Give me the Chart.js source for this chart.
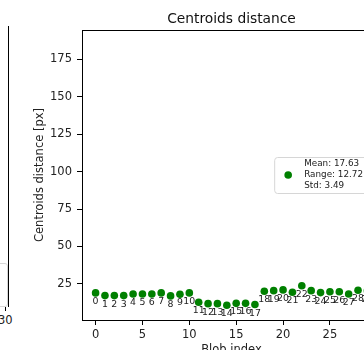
<!DOCTYPE html>
<html>
<head>
<meta charset="utf-8">
<script src="https://cdn.jsdelivr.net/npm/chart.js@4.4.1/dist/chart.umd.min.js"></script>
<style>
  html, body { margin: 0; padding: 0; background: #fff; }
  body { width: 364px; height: 350px; overflow: hidden; position: relative; font-family: "DejaVu Sans", sans-serif; }
  #wrap { position: absolute; left: 0; top: 0; width: 400px; height: 370px; }
  /* bits of the neighbouring subplot cut by the crop */
  .prev-spine { position: absolute; left: 8px; top: 26px; width: 1px; height: 281px; background: #000; }
  .prev-tick { position: absolute; left: 5px; top: 307px; width: 1px; height: 4px; background: #000; }
  .prev-label { position: absolute; left: -2px; top: 313px; font-size: 11.5px; color: #222; }
  .prev-legend { position: absolute; left: -40px; top: 263px; width: 46px; height: 42px; border: 1px solid #d6d6d6; border-radius: 3px; }
</style>
</head>
<body>
<div class="prev-spine"></div>
<div class="prev-tick"></div>
<div class="prev-label">30</div>
<div class="prev-legend"></div>
<div id="wrap"><canvas id="chart" width="400" height="370"></canvas></div>
<script>
// Datos del gráfico
const blobIdx = [0, 1, 2, 3, 4, 5, 6, 7, 8, 9, 10, 11, 12, 13, 14, 15, 16, 17, 18, 19, 20, 21, 22, 23, 24, 25, 26, 27, 28, 29];
const centroidDist = [19.0, 17.2, 17.2, 17.2, 18.3, 18.3, 18.3, 19.0, 17.0, 18.1,
                      19.0, 12.7, 11.8, 11.8, 10.7, 12.0, 12.0, 11.2, 20.1, 20.5,
                      21.0, 19.4, 23.8, 20.5, 19.2, 19.8, 19.8, 18.3, 20.8, 20.5];
const xTicks = [0, 5, 10, 15, 20, 25];
const yTicks = [25, 50, 75, 100, 125, 150, 175];
const legendLines = ["Mean: 17.63", "Range: 12.72", "Std: 3.49"];

const FONT = "DejaVu Sans";
const GREEN = "#008000";

// Marco superior/derecho y título centrado sobre el área del gráfico
const framePlugin = {
  id: "frame",
  afterDraw(chart) {
    const { ctx, chartArea: a } = chart;
    ctx.save();
    ctx.strokeStyle = "#000";
    ctx.lineWidth = 1;
    ctx.beginPath();
    ctx.moveTo(a.left, a.top + 0.5);
    ctx.lineTo(a.right, a.top + 0.5);
    ctx.lineTo(a.right, a.bottom);
    ctx.stroke();
    ctx.fillStyle = "#111";
    ctx.font = `13.8px "${FONT}"`;
    ctx.textAlign = "center";
    ctx.textBaseline = "middle";
    ctx.fillText("Centroids distance", (a.left + a.right) / 2, 19);
    ctx.restore();
  },
};

// Etiqueta con el índice debajo de cada punto
const indexLabels = {
  id: "indexLabels",
  afterDatasetsDraw(chart) {
    const { ctx } = chart;
    const pts = chart.getDatasetMeta(0).data;
    ctx.save();
    ctx.fillStyle = "#222";
    ctx.font = `9.4px "${FONT}"`;
    ctx.textAlign = "center";
    ctx.textBaseline = "middle";
    pts.forEach((p, i) => ctx.fillText(String(blobIdx[i]), p.x, p.y + 8.5));
    ctx.restore();
  },
};

// Leyenda tipo matplotlib ("center right")
const statsLegend = {
  id: "statsLegend",
  afterDraw(chart) {
    const { ctx, chartArea: a } = chart;
    ctx.save();
    ctx.font = `8.8px "${FONT}"`;
    const lineH = 11;
    const textW = Math.max(...legendLines.map((t) => ctx.measureText(t).width));
    const w = 30 + textW + 8;
    const h = legendLines.length * lineH + 3;
    const x = a.right - 10 - w;
    const cy = (a.top + a.bottom) / 2;
    const y = cy - h / 2;
    ctx.fillStyle = "rgba(255,255,255,0.8)";
    ctx.strokeStyle = "#d6d6d6";
    ctx.lineWidth = 1;
    ctx.beginPath();
    ctx.roundRect(x + 0.5, y + 0.5, w, h, 3);
    ctx.fill();
    ctx.stroke();
    ctx.fillStyle = GREEN;
    ctx.beginPath();
    ctx.arc(x + 14, cy, 3.8, 0, Math.PI * 2);
    ctx.fill();
    ctx.fillStyle = "#222";
    ctx.textBaseline = "middle";
    legendLines.forEach((t, i) => ctx.fillText(t, x + 30, cy + (i - 1) * lineH));
    ctx.restore();
  },
};

new Chart(document.getElementById("chart"), {
  type: "scatter",
  data: {
    datasets: [
      {
        data: blobIdx.map((b, i) => ({ x: b, y: centroidDist[i] })),
        backgroundColor: GREEN,
        borderWidth: 0,
        pointRadius: 3.8,
      },
    ],
  },
  options: {
    responsive: false,
    animation: false,
    layout: { padding: { left: 0, top: 30, right: 19, bottom: 0 } },
    plugins: { legend: { display: false }, tooltip: { enabled: false }, title: { display: false } },
    scales: {
      x: {
        type: "linear",
        min: -1.45,
        max: 30.45,
        afterBuildTicks: (s) => { s.ticks = xTicks.map((v) => ({ value: v })); },
        afterFit: (s) => { s.height = 50; },
        grid: { drawOnChartArea: false, drawTicks: true, tickLength: 5, color: "#000" },
        border: { display: true, color: "#000", width: 1 },
        ticks: { color: "#222", font: { family: FONT, size: 11.5 }, padding: 3, maxRotation: 0 },
        title: { display: true, text: "Blob index", color: "#222", font: { family: FONT, size: 11.5 }, padding: { top: 0, bottom: 13 } },
      },
      y: {
        min: 0.9,
        max: 194.5,
        afterBuildTicks: (s) => { s.ticks = yTicks.map((v) => ({ value: v })); },
        afterFit: (s) => { s.width = 82; },
        grid: { drawOnChartArea: false, drawTicks: true, tickLength: 5, color: "#000" },
        border: { display: true, color: "#000", width: 1 },
        ticks: { color: "#222", font: { family: FONT, size: 11.5 }, padding: 5 },
        title: { display: true, text: "Centroids distance [px]", color: "#222", font: { family: FONT, size: 11.5 }, padding: { top: 33, bottom: 0 } },
      },
    },
  },
  plugins: [framePlugin, indexLabels, statsLegend],
});
</script>
</body>
</html>
